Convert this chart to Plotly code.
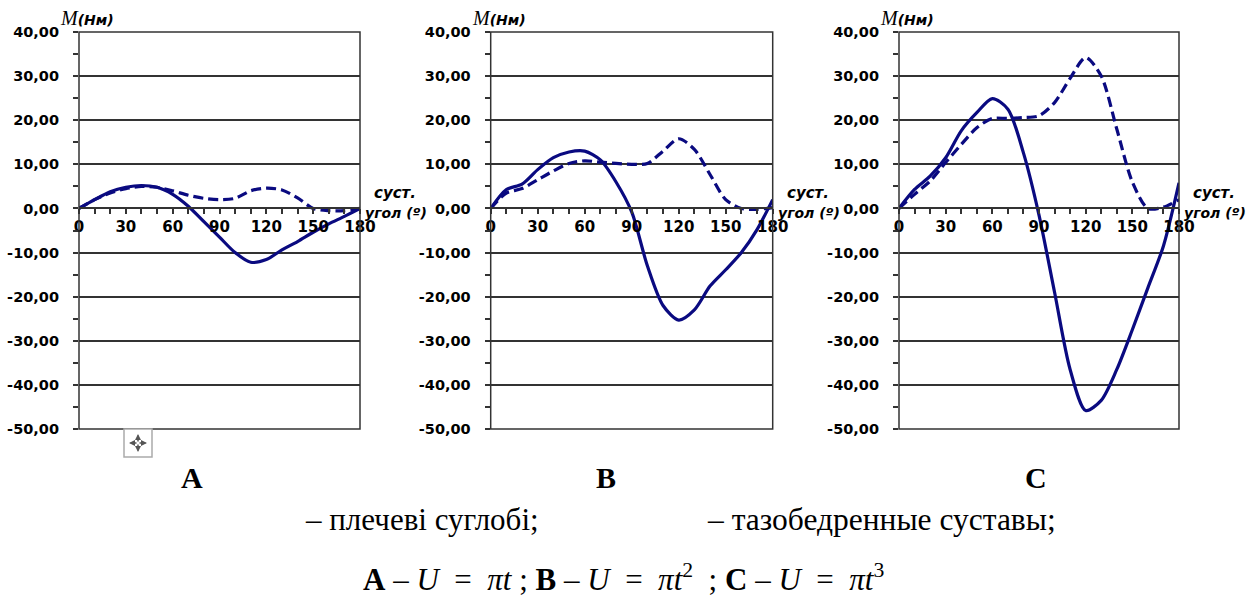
import plotly.graph_objects as go

W, H = 1258, 599

angle = [0, 10, 20, 30, 40, 50, 60, 70, 80, 90, 100, 110, 120, 130, 140, 150, 160, 170, 180]

a_solid = [0, 2.0, 3.8, 4.8, 5.2, 4.8, 3.2, 0.5, -3.0, -6.5, -10.0, -12.2, -11.6, -9.4, -7.5, -5.4, -3.5, -1.8, 0]
a_dash = [0, 2.0, 3.5, 4.5, 5.0, 4.8, 4.0, 3.0, 2.3, 2.0, 2.3, 4.0, 4.6, 4.2, 2.4, 0.0, -0.5, -0.5, 0]

b_solid = [0, 4.3, 5.5, 8.8, 11.5, 12.8, 13.0, 11.0, 6.0, -0.8, -13.0, -22.0, -25.3, -23.0, -17.6, -13.9, -10.0, -4.8, 2.0]
b_dash = [0, 3.5, 4.5, 6.5, 8.5, 10.2, 10.8, 10.5, 10.2, 10.0, 10.2, 13.0, 15.8, 13.4, 7.7, 2.0, 0.0, -0.2, 0.2]

c_solid = [0, 4.3, 7.3, 11.5, 17.6, 21.7, 24.9, 22.5, 12.6, -1.5, -19.0, -36.5, -45.8, -43.5, -36.5, -27.5, -18.0, -8.5, 5.8]
c_dash = [0, 3.2, 6.2, 10.4, 14.5, 18.3, 20.4, 20.4, 20.6, 21.0, 24.0, 29.5, 34.2, 30.0, 18.0, 6.0, 0.0, 0.3, 2.0]

panels = [("A", a_solid, a_dash), ("B", b_solid, b_dash), ("C", c_solid, c_dash)]

y_vals = [40, 30, 20, 10, 0, -10, -20, -30, -40, -50]
y_text = ["40,00", "30,00", "20,00", "10,00", "0,00", "-10,00", "-20,00", "-30,00", "-40,00", "-50,00"]
x_vals = [0, 30, 60, 90, 120, 150, 180]
x_text = ["0", "30", "60", "90", "120", "150", "180"]

legend_text = ["– плечеві суглобі;", "– тазобедренные суставы;"]
EQ = "&nbsp;=&nbsp;"
formula = ("<b>A</b> – <i>U</i> " + EQ + " <i>πt</i> ; <b>B</b> – <i>U</i> " + EQ + " <i>πt</i><sup>2</sup>"
           "  ; <b>C</b> – <i>U</i> " + EQ + " <i>πt</i><sup>3</sup>")

# pixel layout
px_left = [79, 490.7, 899]
px_right = [360, 772.7, 1179]
py_top, py_bot = 32, 429
letter_x = [192, 606, 1036]

NAVY = "#0a0a80"
GRID = "#333333"

def fx(px):
    return px / W

def fy(py):
    return 1 - py / H

fig = go.Figure()
ydom = [fy(py_bot), fy(py_top)]
y0pos = ydom[0] + (0 - (-50)) / 90 * (ydom[1] - ydom[0])

annotations = []
shapes = []

def note(px, py, text, size, family="Liberation Serif", xanchor="center", yanchor="middle"):
    annotations.append(dict(x=fx(px), y=fy(py), xref="paper", yref="paper", showarrow=False,
                            xanchor=xanchor, yanchor=yanchor, text=text,
                            font=dict(family=family, size=size, color="black")))

for i, (name, solid, dash) in enumerate(panels):
    k = "" if i == 0 else str(i + 1)
    xa, ya = "x" + k, "y" + k
    fig.add_trace(go.Scatter(x=angle, y=dash, mode="lines", xaxis=xa, yaxis=ya,
                             line=dict(color=NAVY, width=3.2, dash="10px,5px", shape="spline", smoothing=0.8),
                             showlegend=False, hoverinfo="skip"))
    fig.add_trace(go.Scatter(x=angle, y=solid, mode="lines", xaxis=xa, yaxis=ya,
                             line=dict(color=NAVY, width=3.2, shape="spline", smoothing=0.8),
                             showlegend=False, hoverinfo="skip"))
    xdom = [fx(px_left[i]), fx(px_right[i])]
    fig.update_layout(**{
        "xaxis" + k: dict(domain=xdom, range=[0, 180], anchor="free", position=y0pos, automargin=False,
                          tickvals=x_vals, ticktext=x_text, ticks="outside", ticklen=5,
                          tickcolor=GRID, tickwidth=1.5,
                          minor=dict(dtick=10, tick0=0, ticks="outside", ticklen=5, tickcolor=GRID,
                                     tickwidth=1.5, showgrid=False),
                          showline=True, linecolor=GRID, linewidth=1.5, showgrid=False, zeroline=False,
                          tickfont=dict(family="DejaVu Sans", size=15, color="black", weight="bold"),
                          fixedrange=True),
        "yaxis" + k: dict(domain=ydom, range=[-50, 40], anchor=xa, automargin=False,
                          tickvals=y_vals, ticktext=y_text,
                          ticks="", showgrid=True, gridcolor=GRID, gridwidth=1.5, zeroline=False,
                          minor=dict(dtick=5, tick0=0, ticks="outside", ticklen=5, tickcolor=GRID,
                                     tickwidth=1.5, showgrid=False),
                          showline=False, ticklabelstandoff=19,
                          tickfont=dict(family="DejaVu Sans", size=14.5, color="black", weight="bold"),
                          fixedrange=True),
    })
    # frame
    shapes.append(dict(type="rect", xref=xa + " domain", yref=ya + " domain", x0=0, x1=1, y0=0, y1=1,
                       line=dict(color=GRID, width=1.5), layer="above"))
    # y title
    note(px_left[i] + 8, 18,
         "<span style='font-family:Liberation Serif;font-size:20px'><i>M</i></span><b><i>(Нм)</i></b>",
         14, family="DejaVu Sans")
    # x title
    note(px_right[i] + 12, 193, "<b><i>суст.</i></b>", 15, family="DejaVu Sans", xanchor="left")
    note(px_right[i] + 3, 213, "<b><i>угол (º)</i></b>", 14, family="DejaVu Sans", xanchor="left")
    note(letter_x[i], 477, "<b>%s</b>" % name, 30)

note(303, 519, legend_text[0], 31, xanchor="left")
note(705, 519, legend_text[1], 31.5, xanchor="left")
note(623, 577, formula, 31)

# move icon
shapes.append(dict(type="rect", xref="paper", yref="paper", x0=fx(124), x1=fx(152), y0=fy(457), y1=fy(429),
                   line=dict(color="#aaaaaa", width=1.5), fillcolor="white"))
cx, cy = 138, 443
for dx, dy in [(9, 0), (-9, 0), (0, 9), (0, -9)]:
    annotations.append(dict(x=fx(cx + dx), y=fy(cy + dy), xref="paper", yref="paper", ax=-dx, ay=-dy,
                            showarrow=True, arrowhead=2, arrowsize=0.8, arrowwidth=1.5, arrowcolor="#555555",
                            text=""))

fig.update_layout(width=W, height=H, margin=dict(l=0, r=0, t=0, b=0, pad=0),
                  paper_bgcolor="white", plot_bgcolor="white",
                  annotations=annotations, shapes=shapes)

fig.write_html("out.html", config={"displayModeBar": False})
